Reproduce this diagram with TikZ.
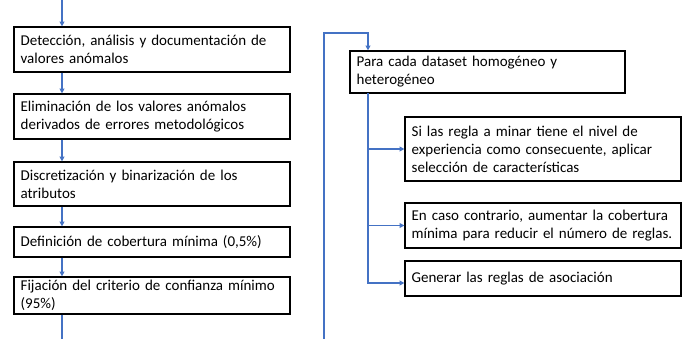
\documentclass[tikz,border=0pt]{standalone}
\usepackage{fontspec}
\setmainfont{Carlito}
\usetikzlibrary{arrows.meta,calc}
\definecolor{conn}{RGB}{68,114,196}
\begin{document}
\begin{tikzpicture}[x=0.75pt,y=-0.75pt,
  box/.style={draw=black, line width=0.9pt, fill=white, align=left,
    inner xsep=5pt, inner ysep=1pt, text width=197pt, minimum width=207pt,
    font=\fontsize{11.25}{13.6}\selectfont},
  arr/.style={draw=conn, line width=1pt, -{Triangle[length=3.6pt,width=3.6pt]}},
  ln/.style={draw=conn, line width=1pt}]
\useasboundingbox (0,0) rectangle (683,339);
% left column
\node[box, minimum height=33.75pt] (L1) at (152,49.5) {\mbox{Detección, análisis y documentación de}\\valores anómalos};
\node[box, minimum height=33.75pt] (L2) at (152,116.5) {Eliminación de los valores anómalos\\derivados de errores metodológicos};
\node[box, minimum height=33pt] (L3) at (152,184) {Discretización y binarización de los\\atributos};
\node[box, minimum height=22.5pt] (L4) at (152,242) {Definición de cobertura mínima (0,5\%)};
\node[box, minimum height=27.75pt] (L5) at (152,295.5) {\mbox{Fijación del criterio de confianza mínimo}\\(95\%)};
\coordinate (top) at (62,0);
\coordinate (bot) at (62,339);
\draw[arr] (top) -- (top |- L1.north);
\draw[arr] (L1.south -| top) -- (L2.north -| top);
\draw[arr] (L2.south -| top) -- (L3.north -| top);
\draw[arr] (L3.south -| top) -- (L4.north -| top);
\draw[arr] (L4.south -| top) -- (L5.north -| top);
\draw[ln] (L5.south -| top) -- (bot);
% right column
\node[box, minimum height=31.5pt, text width=196.25pt, minimum width=206.25pt] (R1) at (487.5,72) {Para cada dataset homogéneo y\\heterogéneo};
\node[box, minimum height=48pt] (R2) at (543,149) {Si las regla a minar tiene el nivel de\\\mbox{experiencia como consecuente, aplicar}\\selección de características};
\node[box, minimum height=33.75pt] (R3) at (543,225.5) {\mbox{En caso contrario, aumentar la cobertura}\\\mbox{mínima para reducir el número de reglas.}};
\node[box, minimum height=26.25pt] (R4) at (543,278.5) {Generar las reglas de asociación};
\coordinate (lb) at (324,339);
\coordinate (lt) at (368,33);
\coordinate (bx) at (368,93);
\draw[arr] (lb) |- (lt) -- (lt |- R1.north);
\draw[arr] (bx) |- (R2.west);
\draw[arr] (bx) |- (R3.west);
\draw[arr] (bx) |- ($(R4.west)+(0,4.5)$);
\end{tikzpicture}
\end{document}
